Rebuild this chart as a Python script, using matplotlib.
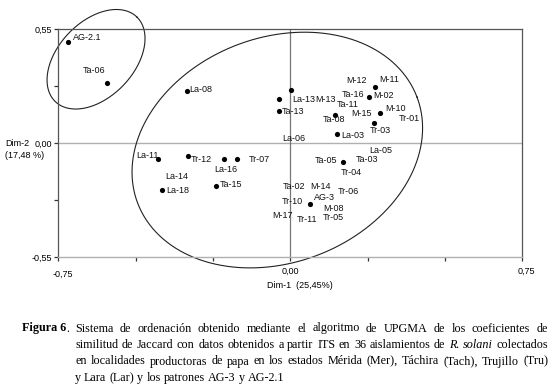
import matplotlib
matplotlib.use("Agg")
import matplotlib.pyplot as plt
from matplotlib.transforms import ScaledTranslation
import numpy as np

# points (several isolates overlap, so fewer dots than labels)
dot_x = [-0.720, -0.592, -0.334, 0.003, -0.035, -0.038, 0.143, 0.275, 0.253, 0.289,
         0.272, 0.152, 0.171, 0.065, -0.429, -0.332, -0.213, -0.171, -0.415, -0.239]
dot_y = [0.489, 0.289, 0.251, 0.256, 0.211, 0.156, 0.135, 0.272, 0.223, 0.146,
         0.098, 0.042, -0.092, -0.296, -0.077, -0.063, -0.077, -0.077, -0.228, -0.206]

# isolate labels
label_names = ["AG-2.1", "Ta-06", "La-08", "La-13", "M-13", "Ta-13", "La-06", "M-12",
               "M-11", "Ta-16", "M-02", "Ta-11", "M-15", "M-10", "Tr-01", "Ta-08",
               "Tr-03", "La-03", "La-05", "Ta-05", "Ta-03", "Tr-04", "Ta-02", "M-14",
               "Tr-06", "AG-3", "Tr-10", "M-08", "M-17", "Tr-11", "Tr-05", "La-11",
               "Tr-12", "Tr-07", "La-16", "La-14", "La-18", "Ta-15"]
label_x = [-0.704, -0.671, -0.327, 0.006, 0.082, -0.027, -0.027, 0.181,
           0.288, 0.165, 0.267, 0.150, 0.196, 0.307, 0.352, 0.104,
           0.257, 0.166, 0.254, 0.079, 0.212, 0.164, -0.025, 0.066,
           0.153, 0.075, -0.027, 0.106, -0.059, 0.021, 0.106, -0.498,
           -0.323, -0.134, -0.246, -0.404, -0.402, -0.228]
label_y = [0.510, 0.349, 0.256, 0.211, 0.211, 0.153, 0.021, 0.301,
           0.307, 0.233, 0.230, 0.188, 0.141, 0.165, 0.116, 0.111,
           0.059, 0.037, -0.037, -0.085, -0.082, -0.143, -0.209, -0.209,
           -0.235, -0.262, -0.283, -0.318, -0.349, -0.368, -0.358, -0.058,
           -0.082, -0.079, -0.127, -0.163, -0.230, -0.199]

xticks = [-0.75, -0.5, -0.25, 0, 0.25, 0.5, 0.75]
xticklabels = ["-0,75", "", "", "0,00", "", "", "0,75"]
yticks = [-0.55, -0.275, 0, 0.275, 0.55]
yticklabels = ["-0,55", "", "0,00", "", "0,55"]

W, H = 554, 385
plt.rcParams["font.family"] = ["Liberation Sans", "DejaVu Sans"]
fig = plt.figure(figsize=(W / 100, H / 100), dpi=100)
ax = fig.add_axes([58.3 / W, 1 - 257 / H, 464 / W, 228 / H])
ax.set_xlim(-0.75, 0.75)
ax.set_ylim(-0.55, 0.55)

# frame and zero lines
dark, light = "#555555", "#b0b0b0"
for s in ["left", "top", "right"]:
    ax.spines[s].set_color(dark)
    ax.spines[s].set_linewidth(0.9)
ax.spines["bottom"].set_color(light)
ax.spines["bottom"].set_linewidth(1.0)
ax.axhline(0, color=light, lw=1.0, zorder=1)
ax.axvline(0, color="#777777", lw=0.9, zorder=1)

ax.set_xticks(xticks)
ax.set_xticklabels(xticklabels)
ax.set_yticks(yticks)
ax.set_yticklabels(yticklabels)
ax.tick_params(axis="both", length=3, width=0.9, color="#333333",
               labelsize=6.5, pad=1.5)
ax.tick_params(axis="x", pad=4)
# nudge the end labels like in the original
for lab, dx, dy in zip(ax.get_xticklabels(), [5, 0, 0, 0, 0, 0, 4], [-3, 0, 0, 0, 0, 0, 0]):
    lab.set_transform(lab.get_transform() + ScaledTranslation(dx / 100, dy / 100, fig.dpi_scale_trans))

ax.scatter(dot_x, dot_y, s=14, color="black", zorder=3, linewidths=0)
for name, x, y in zip(label_names, label_x, label_y):
    ax.text(x, y, name, fontsize=6.5, ha="left", va="center", color="#111111")


# group ellipses (semi-axes given in x units, y stretched to keep the screen shape)
def ellipse(cx, cy, a, b, ang, aspect=309.3 / 207.3):
    t = np.linspace(0, 2 * np.pi, 300)
    r = np.radians(ang)
    u = a * np.cos(t) * np.cos(r) - b * np.sin(t) * np.sin(r)
    v = a * np.cos(t) * np.sin(r) + b * np.sin(t) * np.cos(r)
    return cx + u, cy + v * aspect


for cx, cy, a, b, ang in [(-0.628, 0.404, 0.190, 0.122, 46.1),
                          (-0.042, -0.034, 0.483, 0.364, 20.8)]:
    ex, ey = ellipse(cx, cy, a, b, ang)
    ax.plot(ex, ey, color="#222222", lw=0.8, clip_on=False, zorder=2)

# axis titles
fig.text(5 / W, 1 - 143 / H, "Dim-2", fontsize=6.5, va="center")
fig.text(5 / W, 1 - 155 / H, "(17,48 %)", fontsize=6.5, va="center")
fig.text(300 / W, 1 - 285 / H, "Dim-1  (25,45%)", fontsize=6.5, ha="center", va="center")

# caption, justified word by word
caption = [
    [("Sistema de ordenación obtenido mediante el algoritmo de UPGMA de los coeficientes de", "normal")],
    [("similitud de Jaccard con datos obtenidos a partir ITS en 36 aislamientos de", "normal"),
     ("R. solani", "italic"), ("colectados", "normal")],
    [("en localidades productoras de papa en los estados Mérida (Mer), Táchira (Tach), Trujillo (Tru)", "normal")],
    [("y Lara (Lar) y los patrones AG-3 y AG-2.1", "normal")],
]
baselines = [331.5, 348, 364.5, 381]
serif = ["Liberation Serif", "DejaVu Serif"]
fs = 8.7

renderer = fig.canvas.get_renderer()
head = fig.text(22 / W, 1 - baselines[0] / H, "Figura 6", fontsize=fs, family=serif,
                weight="bold", va="baseline")
head_w = head.get_window_extent(renderer).width
fig.text((22 + head_w) / W, 1 - baselines[0] / H, ".", fontsize=fs, family=serif, va="baseline")

for i, (runs, y) in enumerate(zip(caption, baselines)):
    words = []
    for txt, style in runs:
        for w in txt.split():
            t = fig.text(0, 1 - y / H, w, fontsize=fs, family=serif, style=style, va="baseline")
            words.append(t)
    widths = [t.get_window_extent(renderer).width for t in words]
    x0, x1 = 75, 548
    if i < len(caption) - 1:
        gap = (x1 - x0 - sum(widths)) / (len(words) - 1)
    else:
        gap = 3.0
    x = x0
    for t, wd in zip(words, widths):
        t.set_x(x / W)
        x += wd + gap

fig.savefig("out.png", dpi=100)
